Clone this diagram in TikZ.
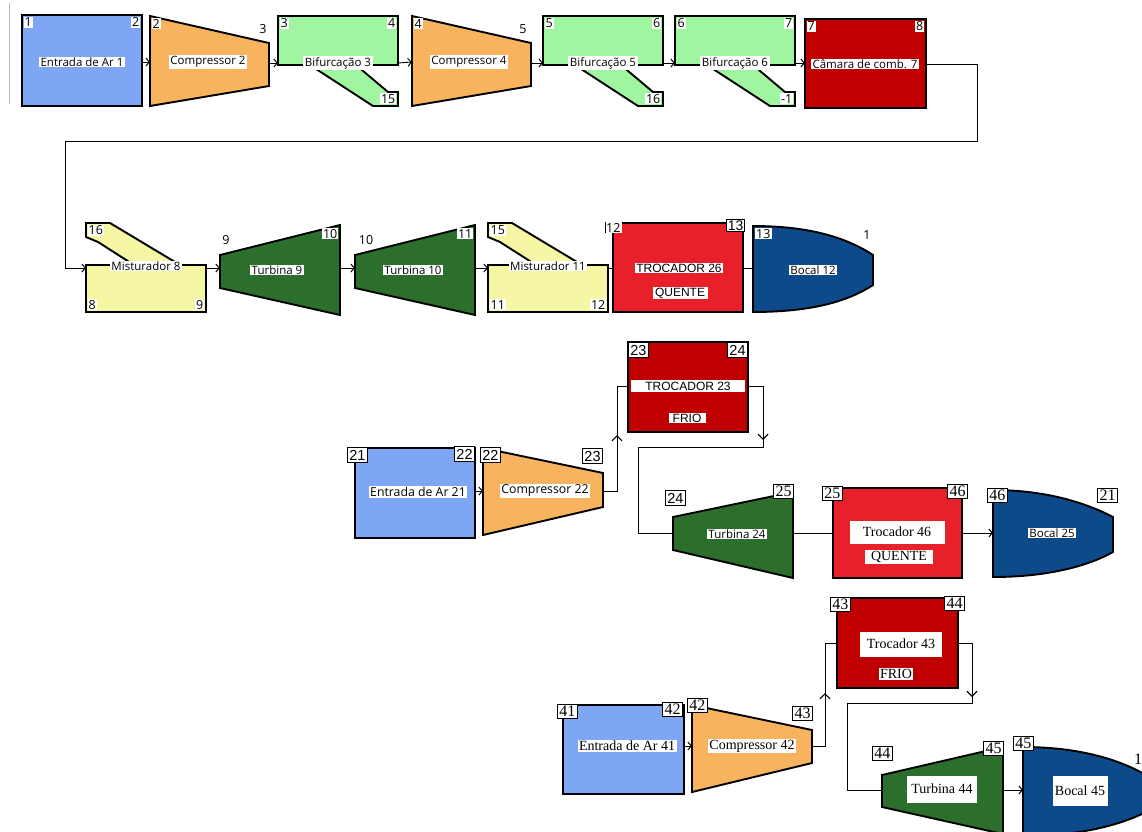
\documentclass[tikz,border=0pt]{standalone}
\usepackage{fontspec}
\usetikzlibrary{arrows.meta,decorations.markings}
\newfontfamily\uifam{Open Sans}
\newfontfamily\arfam{Liberation Sans}
\newfontfamily\tmfam{Liberation Serif}
\newcommand\uisz{\uifam\fontsize{11.5}{13}\selectfont}
\newcommand\uinumsz{\uifam\fontsize{12.5}{14}\selectfont}
\newcommand\uibigsz{\uifam\fontsize{12.3}{14}\selectfont}
\newcommand\arsz{\arfam\fontsize{12}{14}\selectfont}
\newcommand\tmsz{\tmfam\fontsize{14}{16}\selectfont}
\newcommand\numsz{\arfam\fontsize{14.5}{16}\selectfont}
\newcommand\tnumsz{\tmfam\fontsize{16}{18}\selectfont}

\definecolor{airblue}{HTML}{7EA6F4}
\definecolor{comporange}{HTML}{F8B35E}
\definecolor{splitgreen}{HTML}{A0F6A0}
\definecolor{burnred}{HTML}{C00000}
\definecolor{mixyellow}{HTML}{F6F7A4}
\definecolor{turbgreen}{HTML}{2C6E2C}
\definecolor{hotred}{HTML}{E8202A}
\definecolor{nozzleblue}{HTML}{0E4A8A}

\tikzset{
  part/.style={draw=black, line width=1.9pt, line join=miter},
  edgeline/.style={line width=2.6pt},
  tag/.style={fill=white, inner xsep=1.5pt, inner ysep=1pt, font=\uisz},
  bigtag/.style={tag, font=\uibigsz},
  artag/.style={tag, font=\arsz},
  tmtag/.style={tag, font=\tmsz},
  num/.style={fill=white, inner sep=1pt, font=\uinumsz},
  bare/.style={inner sep=1pt, font=\uinumsz},
  boxnum/.style={fill=white, draw=black, line width=0.8pt, inner xsep=2pt, inner ysep=2.5pt, font=\numsz},
  tboxnum/.style={boxnum, inner ysep=1.8pt, font=\tnumsz},
  flow/.style={draw=black, line width=0.9pt},
  flowarrow/.style={flow, -{Straight Barb[length=3.5pt,width=8pt,line width=1pt]}},
  midtip/.style={postaction={decorate}, decoration={markings,
      mark=at position #1 with {\arrow{Straight Barb[length=5pt,width=10pt,line width=1.2pt]}}}},
}

% splitter: name, left x, title, inlet no., outlet no., branch no.
\newcommand\splitter[6]{%
  \begin{scope}[shift={(#2,16)}]
    \filldraw[fill=splitgreen, part] (32,49) -- (95,90) -- (120,90) -- (120,76) -- (110,76) -- (78,49) -- cycle;
    \fill[splitgreen] (0,0) rectangle (120,49);
    \draw[part] (0,49) -- (0,0) -- (120,0) -- (120,49);
    \draw[edgeline] (-1,49) -- (121,49);
    \node[num, anchor=north west] (#1-i) at (1.5,1.5) {#4};
    \node[num, anchor=north east] (#1-o) at (118.5,1.5) {#5};
    \node[num, anchor=south east] (#1-b) at (118.5,88.5) {#6};
    \node[tag] (#1) at (60,47) {#3};
    \coordinate (#1-w) at (0,47);
    \coordinate (#1-e) at (120,47);
  \end{scope}}

% mixer: name, left x, title, branch no., inlet no., outlet no.
\newcommand\mixer[6]{%
  \begin{scope}[shift={(#2,223)}]
    \filldraw[fill=mixyellow, part] (0,14) -- (0,0) -- (24,0) -- (94,42) -- (48,42) -- (12,19) -- cycle;
    \fill[mixyellow] (0,42) rectangle (120,89);
    \draw[part] (0,42) -- (0,89) -- (120,89) -- (120,42);
    \draw[edgeline] (-1,42) -- (121,42);
    \node[num, anchor=north west] (#1-b) at (1.5,1.5) {#4};
    \node[num, anchor=south west] (#1-i) at (1.5,87.5) {#5};
    \node[num, anchor=south east] (#1-o) at (118.5,87.5) {#6};
    \node[tag] (#1) at (60,43) {#3};
    \coordinate (#1-w) at (0,45);
    \coordinate (#1-e) at (120,45);
  \end{scope}}

\begin{document}
\begin{tikzpicture}[x=1pt, y=-1pt]
\useasboundingbox (0,0) rectangle (1142,831);
\fill[white] (0,0) rectangle (1142,831);
\clip (0,0) rectangle (1142,831);

\draw[gray!55, line width=1pt] (9,3) -- (9,104);

% ================= first line
\filldraw[fill=airblue, part] (22,15) rectangle (142,106);
\node[num, anchor=north west] (ar1-i) at (23.5,16.5) {1};
\node[num, anchor=north east] (ar1-o) at (140.5,16.5) {2};
\node[tag] (ar1) at (82,62) {Entrada de Ar 1};
\coordinate (ar1-e) at (142,62);

\filldraw[fill=comporange, part] (150,16) -- (269,43) -- (269,86) -- (150,106) -- cycle;
\node[num, anchor=north west] (c2-i) at (151.5,18) {2};
\node[bare] (c2-o) at (263,29) {3};
\node[tag] (c2) at (208,62) {Compressor 2};
\coordinate (c2-w) at (150,62);
\coordinate (c2-e) at (269,63);

\splitter{b3}{278}{Bifurcação 3}{3}{4}{15}

\filldraw[fill=comporange, part] (412,16) -- (531,43) -- (531,86) -- (412,106) -- cycle;
\node[num, anchor=north west] (c4-i) at (413.5,18) {4};
\node[bare] (c4-o) at (523,29) {5};
\node[tag] (c4) at (469,62) {Compressor 4};
\coordinate (c4-w) at (412,62);
\coordinate (c4-e) at (531,63);

\splitter{b5}{543}{Bifurcação 5}{5}{6}{16}
\splitter{b6}{675}{Bifurcação 6}{6}{7}{-1}

\filldraw[fill=burnred, part] (805,19) rectangle (926,108);
\node[num, anchor=north west] (cc7-i) at (806.5,20.5) {7};
\node[num, anchor=north east] (cc7-o) at (924.5,20.5) {8};
\node[tag] (cc7) at (865,64) {Câmara de comb. 7};
\coordinate (cc7-w) at (805,63);
\coordinate (cc7-e) at (926,64);

\draw[flowarrow] (ar1-e) -- (c2-w);
\draw[flowarrow] (c2-e) -- (b3-w);
\draw[flowarrow] (b3-e) -- (c4-w);
\draw[flowarrow] (c4-e) -- (b5-w);
\draw[flowarrow] (b5-e) -- (b6-w);
\draw[flowarrow] (b6-e) -- (cc7-w);

% ================= second line
\mixer{m8}{86}{Misturador 8}{16}{8}{9}

\filldraw[fill=turbgreen, part] (220,255) -- (340,225) -- (340,315) -- (220,288) -- cycle;
\node[bare] (t9-i) at (226,240) {9};
\node[num, anchor=north east] (t9-o) at (338.5,228) {10};
\node[tag] (t9) at (277,270) {Turbina 9};
\coordinate (t9-w) at (220,268);
\coordinate (t9-e) at (340,268);

\filldraw[fill=turbgreen, part] (355,255) -- (475,225) -- (475,315) -- (355,288) -- cycle;
\node[bare] (t10-i) at (366,240) {10};
\node[num, anchor=north east] (t10-o) at (473.5,228) {11};
\node[tag] (t10) at (413,270) {Turbina 10};
\coordinate (t10-w) at (355,268);
\coordinate (t10-e) at (475,268);

\mixer{m11}{488}{Misturador 11}{15}{11}{12}

\filldraw[fill=hotred, part] (613,223) rectangle (743,312);
\node[artag] (tr26) at (679,268) {TROCADOR 26};
\node[artag, minimum width=55pt] (tr26-q) at (680,293) {QUENTE};
\node[num, anchor=north west] (tr26-i) at (605,222) {12};
\draw[line width=0.9pt] (tr26-i.north west) -- (tr26-i.south west);
\node[num, draw=black, line width=1.2pt, anchor=north east, font=\arfam\fontsize{14}{16}\selectfont] (tr26-o) at (745,219) {13};
\coordinate (tr26-w) at (613,268);
\coordinate (tr26-e) at (743,268);

\filldraw[fill=nozzleblue, part] (753,226) .. controls (815,226) and (850,240) .. (873,255)
  -- (873,285) .. controls (850,300) and (815,312) .. (753,312) -- cycle;
\node[num, anchor=north west] (bo12-i) at (755,228) {13};
\node[bare] (bo12-o) at (867,235) {1};
\node[tag] (bo12) at (813,270) {Bocal 12};
\coordinate (bo12-w) at (753,268);

\coordinate (ret-a) at (977,141);
\coordinate (ret-b) at (65,141);
\draw[flowarrow] (cc7-e) -| (ret-a) -- (ret-b) |- (m8-w);
\draw[flowarrow] (m8-e) -- (t9-w);
\draw[flowarrow] (t9-e) -- (t10-w);
\draw[flowarrow] (t10-e) -- (m11-w);
\draw[flow] (m11-e) -- (tr26-w);
\draw[flow] (tr26-e) -- (bo12-w);

% ================= third line
\filldraw[fill=burnred, part] (628,342) rectangle (748,432);
\node[artag, minimum width=114pt, inner ysep=1.5pt] (tr23) at (688,386) {TROCADOR 23};
\node[artag, minimum width=37pt] (tr23-f) at (687,418) {FRIO};
\node[boxnum, anchor=north west] (tr23-i) at (628,342) {23};
\node[boxnum, anchor=north east] (tr23-o) at (748,342) {24};
\coordinate (tr23-w) at (628,386);
\coordinate (tr23-e) at (748,386);

\filldraw[fill=airblue, part] (355,448) rectangle (475,538);
\node[bigtag] (ar21) at (418,492) {Entrada de Ar 21};
\node[boxnum, anchor=north west] (ar21-i) at (347,447) {21};
\node[boxnum, anchor=north east] (ar21-o) at (475,446) {22};
\coordinate (ar21-e) at (475,491);

\filldraw[fill=comporange, part] (483,448) -- (603,473) -- (603,507) -- (483,535) -- cycle;
\node[bigtag] (c22) at (545,491) {Compressor 22};
\node[boxnum, anchor=north west] (c22-i) at (480,447) {22};
\node[boxnum, anchor=north east] (c22-o) at (603,448) {23};
\coordinate (c22-w) at (483,491);
\coordinate (c22-e) at (603,491);

\filldraw[fill=turbgreen, part] (673,517) -- (793,492) -- (793,578) -- (673,550) -- cycle;
\node[tag] (t24) at (737,534) {Turbina 24};
\node[boxnum, anchor=north west] (t24-i) at (665,490) {24};
\node[tboxnum, anchor=north east] (t24-o) at (794,484) {25};
\coordinate (t24-w) at (673,533);
\coordinate (t24-e) at (793,533);

\filldraw[fill=hotred, part] (833,488) rectangle (962,578);
\node[tmtag, minimum width=95pt, minimum height=23pt] (tr46) at (897,532) {Trocador 46};
\node[tmtag, minimum width=68pt] (tr46-q) at (899,557) {QUENTE};
\node[tboxnum, anchor=north west] (tr46-i) at (822,486) {25};
\node[tboxnum, anchor=north east] (tr46-o) at (968,484) {46};
\coordinate (tr46-w) at (833,533);
\coordinate (tr46-e) at (962,533);

\filldraw[fill=nozzleblue, part] (993,490) .. controls (1050,490) and (1090,505) .. (1113,517)
  -- (1113,552) .. controls (1090,565) and (1050,577) .. (993,577) -- cycle;
\node[tag] (bo25) at (1052,533) {Bocal 25};
\node[tboxnum, anchor=north west] (bo25-i) at (987,488) {46};
\node[tboxnum, anchor=north east] (bo25-o) at (1118,488) {21};
\coordinate (bo25-w) at (993,533);

\draw[flowarrow] (ar21-e) -- (c22-w);
\coordinate (k22a) at (617,491);
\coordinate (k22b) at (617,386);
\draw[flow, midtip=70pt] (c22-e) -- (k22a) -- (k22b) -- (tr23-w);
\coordinate (k23a) at (763,386);
\coordinate (k23b) at (763,447);
\coordinate (k23c) at (638,447);
\coordinate (k23d) at (638,533);
\draw[flow, midtip=69pt] (tr23-e) -- (k23a) -- (k23b) -- (k23c) -- (k23d) -- (t24-w);
\draw[flow] (t24-e) -- (tr46-w);
\draw[flowarrow] (tr46-e) -- (bo25-w);

% ================= fourth line
\filldraw[fill=burnred, part] (837,598) rectangle (958,688);
\node[tmtag, minimum width=82pt, minimum height=25pt] (tr43) at (901,644) {Trocador 43};
\node[tmtag, minimum width=34pt] (tr43-f) at (896,674) {FRIO};
\node[tboxnum, anchor=north west] (tr43-i) at (830,597) {43};
\node[tboxnum, anchor=north east] (tr43-o) at (965,596) {44};
\coordinate (tr43-w) at (837,643);
\coordinate (tr43-e) at (958,643);

\filldraw[fill=airblue, part] (563,705) rectangle (684,794);
\node[tmtag] (ar41) at (627,746) {Entrada de Ar 41};
\node[tboxnum, anchor=north west] (ar41-i) at (557,704) {41};
\node[tboxnum, anchor=north east] (ar41-o) at (683,702) {42};
\coordinate (ar41-e) at (684,746);

\filldraw[fill=comporange, part] (692,705) -- (812,730) -- (812,763) -- (692,792) -- cycle;
\node[tmtag] (c42) at (752,746) {Compressor 42};
\node[tboxnum, anchor=north west] (c42-i) at (687,698) {42};
\node[tboxnum, anchor=north east] (c42-o) at (813,706) {43};
\coordinate (c42-w) at (692,746);
\coordinate (c42-e) at (812,746);

\filldraw[fill=turbgreen, part] (882,775) -- (1003,747) -- (1003,834) -- (882,807) -- cycle;
\node[tmtag, minimum width=70pt, minimum height=27pt] (t44) at (942,789) {Turbina 44};
\node[tboxnum, anchor=north west] (t44-i) at (872,746) {44};
\node[tboxnum, anchor=north east] (t44-o) at (1004,741) {45};
\coordinate (t44-w) at (882,790);
\coordinate (t44-e) at (1003,790);

\filldraw[fill=nozzleblue, part] (1023,747) .. controls (1080,747) and (1120,760) .. (1146,775)
  -- (1146,812) .. controls (1120,825) and (1080,836) .. (1023,836) -- cycle;
\node[tmtag, minimum width=55pt, minimum height=30pt] (bo45) at (1080,791) {Bocal 45};
\node[tboxnum, anchor=north west] (bo45-i) at (1013,736) {45};
\node[inner sep=1pt, font=\tnumsz] (bo45-o) at (1138,759) {1};
\coordinate (bo45-w) at (1023,790);

\draw[flowarrow] (ar41-e) -- (c42-w);
\coordinate (k42a) at (825,746);
\coordinate (k42b) at (825,643);
\draw[flow, midtip=66pt] (c42-e) -- (k42a) -- (k42b) -- (tr43-w);
\coordinate (k43a) at (972,643);
\coordinate (k43b) at (972,703);
\coordinate (k43c) at (847,703);
\coordinate (k43d) at (847,790);
\draw[flow, midtip=68pt] (tr43-e) -- (k43a) -- (k43b) -- (k43c) -- (k43d) -- (t44-w);
\draw[flowarrow] (t44-e) -- (bo45-w);
\end{tikzpicture}
\end{document}
